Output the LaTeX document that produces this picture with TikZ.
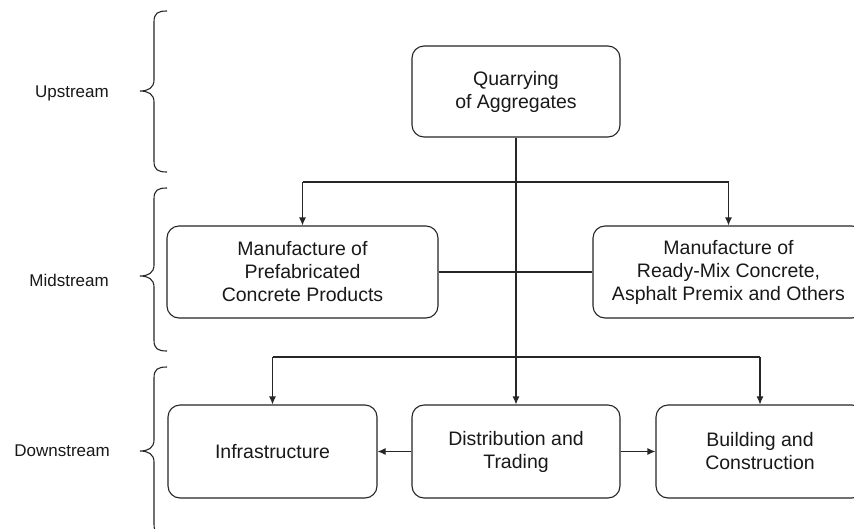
\documentclass[tikz,border=0pt]{standalone}
\usepackage{fontspec}
\setmainfont{Liberation Sans}
\usetikzlibrary{arrows.meta}
\begin{document}
\begin{tikzpicture}[x=1pt,y=-1pt,
  box/.style={draw=black!85, line width=1.1pt, rounded corners=12pt, align=center,
    font=\fontsize{19.5}{23}\selectfont, inner sep=0pt, text=black!90},
  conn/.style={draw=black!85, line width=1.1pt},
  arr/.style={conn, -{Latex[length=8pt,width=7pt]}},
  lbl/.style={font=\fontsize{17}{20}\selectfont, anchor=east, text=black!90, inner sep=0pt},
  brace/.style={draw=black!85, line width=1.1pt}]
\fill[white] (0,0) rectangle (854,528);
\useasboundingbox (0,0) rectangle (854,528);
\begin{scope}
\clip (0,0) rectangle (854,528);
% boxes
\node[box, minimum width=208pt, minimum height=91pt] (quarry) at (516,91.5) {Quarrying\\of Aggregates};
\node[box, minimum width=271pt, minimum height=92pt] (prefab) at (302.5,272) {Manufacture of\\Prefabricated\\Concrete Products};
\node[box, minimum width=271pt, minimum height=92pt] (ready) at (728.5,272) {Manufacture of\\Ready-Mix Concrete,\\Asphalt Premix and Others};
\node[box, minimum width=209pt, minimum height=93pt] (infra) at (272.5,451.5) {Infrastructure};
\node[box, minimum width=208pt, minimum height=93pt] (dist) at (516,451.5) {Distribution and\\Trading};
\node[box, minimum width=208pt, minimum height=93pt] (build) at (760,451.5) {Building and\\Construction};
% bus coordinates
\coordinate (busA) at (0,182);
\coordinate (busB) at (0,357);
\coordinate (a1) at (prefab.north |- busA);
\coordinate (a2) at (ready.north |- busA);
\coordinate (b1) at (infra.north |- busB);
\coordinate (b2) at (build.north |- busB);
% connectors
\draw[arr] (quarry.south) -- (dist.north);
\draw[conn] (a1) -- (a2);
\draw[arr] (a1) -- (prefab.north);
\draw[arr] (a2) -- (ready.north);
\draw[conn] (prefab.east) -- (ready.west);
\draw[conn] (b1) -- (b2);
\draw[arr] (b1) -- (infra.north);
\draw[arr] (b2) -- (build.north);
\draw[arr] (dist.west) -- (infra.east);
\draw[arr] (dist.east) -- (build.west);
% braces
\draw[brace] (167,11) .. controls (158,11) and (154,13) .. (154,22) -- (154,80)
  .. controls (154,88) and (148,91) .. (140,91)
  .. controls (148,91) and (154,94) .. (154,102) -- (154,161)
  .. controls (154,170) and (158,172) .. (167,172);
\draw[brace] (167,188) .. controls (158,188) and (154,190) .. (154,199) -- (154,265)
  .. controls (154,273) and (148,276) .. (140,276)
  .. controls (148,276) and (154,279) .. (154,287) -- (154,340)
  .. controls (154,349) and (158,351) .. (167,351);
\draw[brace] (167,367) .. controls (158,367) and (154,369) .. (154,378) -- (154,440)
  .. controls (154,448) and (148,451) .. (140,451)
  .. controls (148,451) and (154,454) .. (154,462) -- (154,524)
  .. controls (154,533) and (158,535) .. (167,535);
% labels
\node[lbl] (up) at (109,93) {Upstream};
\node[lbl] (mid) at (109,280) {Midstream};
\node[lbl] (down) at (110,451) {Downstream};
\end{scope}
\end{tikzpicture}
\end{document}
